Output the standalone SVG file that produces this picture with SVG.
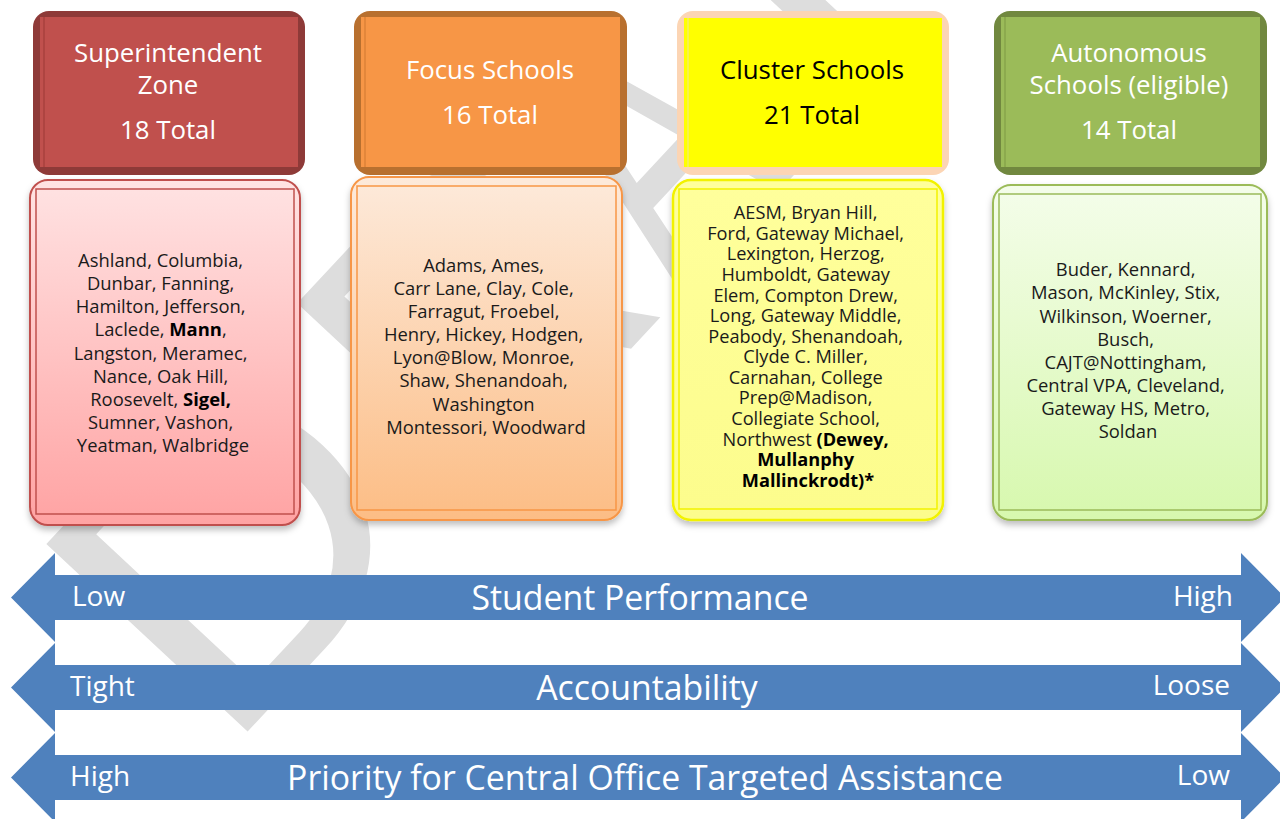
<svg xmlns="http://www.w3.org/2000/svg" width="1280" height="819" viewBox="0 0 1280 819">
  <defs>
    <style>
      .hdr { font-family: "Open Sans", "Liberation Sans", sans-serif; font-size: 25.8px; text-anchor: middle; }
      .hdr-w { fill: #ffffff; }
      .hdr-k { fill: #000000; }
      .body { font-family: "Open Sans", "Liberation Sans", sans-serif; font-size: 18.4px; text-anchor: middle; fill: #1a1a1a; }
      .body-s { font-size: 18.2px; }
      .b { font-weight: bold; fill: #000000; }
      .axis { font-family: "Open Sans", "Liberation Sans", sans-serif; fill: #ffffff; }
      .axis-end { font-size: 28px; }
      .axis-title { font-size: 33.8px; text-anchor: middle; }
      .arrow { fill: #4f81bd; }
      .wm { font-family: "Liberation Sans", "Arial", sans-serif; font-size: 400px; fill: #dddddd; }
    </style>
    <linearGradient id="gRed" x1="0" y1="0" x2="0" y2="1">
      <stop offset="0" stop-color="#ffe3e3"/>
      <stop offset="1" stop-color="#ffa3a3"/>
    </linearGradient>
    <linearGradient id="gOrange" x1="0" y1="0" x2="0" y2="1">
      <stop offset="0" stop-color="#fdeadb"/>
      <stop offset="1" stop-color="#fcbd85"/>
    </linearGradient>
    <linearGradient id="gYellow" x1="0" y1="0" x2="0" y2="1">
      <stop offset="0" stop-color="#ffff9c"/>
      <stop offset="1" stop-color="#fcfc8c"/>
    </linearGradient>
    <linearGradient id="gGreen" x1="0" y1="0" x2="0" y2="1">
      <stop offset="0" stop-color="#f4fdea"/>
      <stop offset="1" stop-color="#d7f8ae"/>
    </linearGradient>
    <filter id="shadow" x="-10%" y="-10%" width="120%" height="125%">
      <feDropShadow dx="0" dy="4" stdDeviation="3" flood-color="#000000" flood-opacity="0.25"/>
    </filter>
  </defs>

  <rect width="1280" height="819" fill="#ffffff"/>

  <!-- background watermark: each letter set on a -47 degree baseline -->
  <g id="watermark">
    <text class="wm" transform="translate(223 758) rotate(-47) scale(1.1 1)">D</text>
    <text class="wm" transform="translate(476 515) rotate(-47)">R</text>
    <text class="wm" transform="translate(682 295) rotate(-47) scale(0.62 1)">A</text>
    <text class="wm" transform="translate(848 117) rotate(-47)">F</text>
    <text class="wm" transform="translate(1014 -61) rotate(-47)">T</text>
  </g>

  <!-- category headers -->
  <g id="hdr-superintendent">
    <rect x="33" y="11" width="272" height="164" rx="16" fill="#8e3a38"/>
    <rect x="40" y="17" width="258" height="150" fill="#c0504d"/>
    <line x1="44" y1="17" x2="44" y2="167" stroke="#a8403e" stroke-width="1.5"/>
    <text class="hdr hdr-w" x="168" y="62">Superintendent</text>
    <text class="hdr hdr-w" x="168" y="94">Zone</text>
    <text class="hdr hdr-w" x="168" y="139">18 Total</text>
  </g>
  <g id="hdr-focus">
    <rect x="354" y="11" width="273" height="164" rx="16" fill="#b8702f"/>
    <rect x="361" y="17" width="259" height="150" fill="#f79646"/>
    <line x1="365" y1="17" x2="365" y2="167" stroke="#dc8239" stroke-width="1.5"/>
    <text class="hdr hdr-w" x="490" y="79">Focus Schools</text>
    <text class="hdr hdr-w" x="490" y="124">16 Total</text>
  </g>
  <g id="hdr-cluster">
    <rect x="677" y="11" width="272" height="164" rx="16" fill="#fcd5b4"/>
    <rect x="684" y="18" width="258" height="149" fill="#ffff00"/>
    <line x1="688" y1="18" x2="688" y2="167" stroke="#f4f060" stroke-width="1.5"/>
    <text class="hdr hdr-k" x="812" y="79">Cluster Schools</text>
    <text class="hdr hdr-k" x="812" y="124">21 Total</text>
  </g>
  <g id="hdr-autonomous">
    <rect x="994" y="11" width="273" height="164" rx="16" fill="#71883f"/>
    <rect x="1001" y="17" width="259" height="150" fill="#9bbb59"/>
    <line x1="1005" y1="17" x2="1005" y2="167" stroke="#87a44b" stroke-width="1.5"/>
    <text class="hdr hdr-w" x="1129" y="62">Autonomous</text>
    <text class="hdr hdr-w" x="1129" y="94">Schools (eligible)</text>
    <text class="hdr hdr-w" x="1129" y="139">14 Total</text>
  </g>

  <!-- school lists -->
  <g id="list-superintendent">
    <rect x="30" y="180" width="270" height="345" rx="18" fill="url(#gRed)" stroke="#c0504d" stroke-width="2" filter="url(#shadow)"/>
    <rect x="36" y="189" width="258" height="325" fill="none" stroke="#c0504d" stroke-width="1.5"/>
    <text class="body">
      <tspan x="163" y="267">Ashland, Columbia,</tspan>
      <tspan x="163" y="290">Dunbar, Fanning,</tspan>
      <tspan x="163" y="313">Hamilton, Jefferson,</tspan>
      <tspan x="163" y="336">Laclede, <tspan class="b">Mann</tspan>,</tspan>
      <tspan x="163" y="360">Langston, Meramec,</tspan>
      <tspan x="163" y="383">Nance, Oak Hill,</tspan>
      <tspan x="163" y="406">Roosevelt, <tspan class="b">Sigel,</tspan></tspan>
      <tspan x="163" y="429">Sumner, Vashon,</tspan>
      <tspan x="163" y="452">Yeatman, Walbridge</tspan>
    </text>
  </g>
  <g id="list-focus">
    <rect x="351" y="177" width="271" height="343" rx="18" fill="url(#gOrange)" stroke="#f79646" stroke-width="2" filter="url(#shadow)"/>
    <rect x="357" y="186" width="259" height="324" fill="none" stroke="#f79646" stroke-width="1.5"/>
    <text class="body">
      <tspan x="486" y="272">Adams, Ames,</tspan>
      <tspan x="486" y="295">Carr Lane, Clay, Cole,</tspan>
      <tspan x="486" y="318">Farragut, Froebel,</tspan>
      <tspan x="486" y="341">Henry, Hickey, Hodgen,</tspan>
      <tspan x="486" y="364">Lyon@Blow, Monroe,</tspan>
      <tspan x="486" y="387">Shaw, Shenandoah,</tspan>
      <tspan x="486" y="411">Washington</tspan>
      <tspan x="486" y="434">Montessori, Woodward</tspan>
    </text>
  </g>
  <g id="list-cluster">
    <rect x="673" y="180" width="270" height="340" rx="18" fill="url(#gYellow)" stroke="#f2f200" stroke-width="2.5" filter="url(#shadow)"/>
    <rect x="679" y="189" width="258" height="320" fill="none" stroke="#f2f200" stroke-width="1.5"/>
    <text class="body body-s">
      <tspan x="808" y="219">AESM, Bryan Hill,</tspan>
      <tspan x="808" y="240">Ford, Gateway Michael,</tspan>
      <tspan x="808" y="260">Lexington, Herzog,</tspan>
      <tspan x="808" y="281">Humboldt, Gateway</tspan>
      <tspan x="808" y="302">Elem, Compton Drew,</tspan>
      <tspan x="808" y="322">Long, Gateway Middle,</tspan>
      <tspan x="808" y="343">Peabody, Shenandoah,</tspan>
      <tspan x="808" y="363">Clyde C. Miller,</tspan>
      <tspan x="808" y="384">Carnahan, College</tspan>
      <tspan x="808" y="404">Prep@Madison,</tspan>
      <tspan x="808" y="425">Collegiate School,</tspan>
      <tspan x="808" y="446">Northwest <tspan class="b">(Dewey,</tspan></tspan>
      <tspan x="808" y="466" class="b">Mullanphy</tspan>
      <tspan x="808" y="487" class="b">Mallinckrodt)*</tspan>
    </text>
  </g>
  <g id="list-autonomous">
    <rect x="993" y="185" width="274" height="335" rx="18" fill="url(#gGreen)" stroke="#9bbb59" stroke-width="2" filter="url(#shadow)"/>
    <rect x="999" y="194" width="262" height="316" fill="none" stroke="#9bbb59" stroke-width="1.5"/>
    <text class="body">
      <tspan x="1128" y="276">Buder,  Kennard,</tspan>
      <tspan x="1128" y="299">Mason, McKinley, Stix,</tspan>
      <tspan x="1128" y="323">Wilkinson, Woerner,</tspan>
      <tspan x="1128" y="346">Busch,</tspan>
      <tspan x="1128" y="369">CAJT@Nottingham,</tspan>
      <tspan x="1128" y="392">Central VPA, Cleveland,</tspan>
      <tspan x="1128" y="415">Gateway HS, Metro,</tspan>
      <tspan x="1128" y="438">Soldan</tspan>
    </text>
  </g>

  <!-- scales -->
  <g id="connectors">
    <polygon class="arrow" points="11,597.5 55,553 55,575 1241,575 1241,553 1285,597.5 1241,642 1241,620 55,620 55,642"/>
    <polygon class="arrow" points="11,687.5 55,643 55,665 1241,665 1241,643 1285,687.5 1241,732 1241,710 55,710 55,732"/>
    <polygon class="arrow" points="11,777.5 55,733 55,755 1241,755 1241,733 1285,777.5 1241,822 1241,800 55,800 55,822"/>
  </g>
  <g id="scale-performance">
    <text class="axis axis-end" x="72" y="606">Low</text>
    <text class="axis axis-title" x="640" y="610">Student Performance</text>
    <text class="axis axis-end" x="1233" y="606" text-anchor="end">High</text>
  </g>
  <g id="scale-accountability">
    <text class="axis axis-end" x="70" y="696">Tight</text>
    <text class="axis axis-title" x="647" y="700">Accountability</text>
    <text class="axis axis-end" x="1230" y="695" text-anchor="end">Loose</text>
  </g>
  <g id="scale-priority">
    <text class="axis axis-end" x="70" y="786">High</text>
    <text class="axis axis-title" x="645" y="790">Priority for Central Office Targeted Assistance</text>
    <text class="axis axis-end" x="1230" y="785" text-anchor="end">Low</text>
  </g>
</svg>
